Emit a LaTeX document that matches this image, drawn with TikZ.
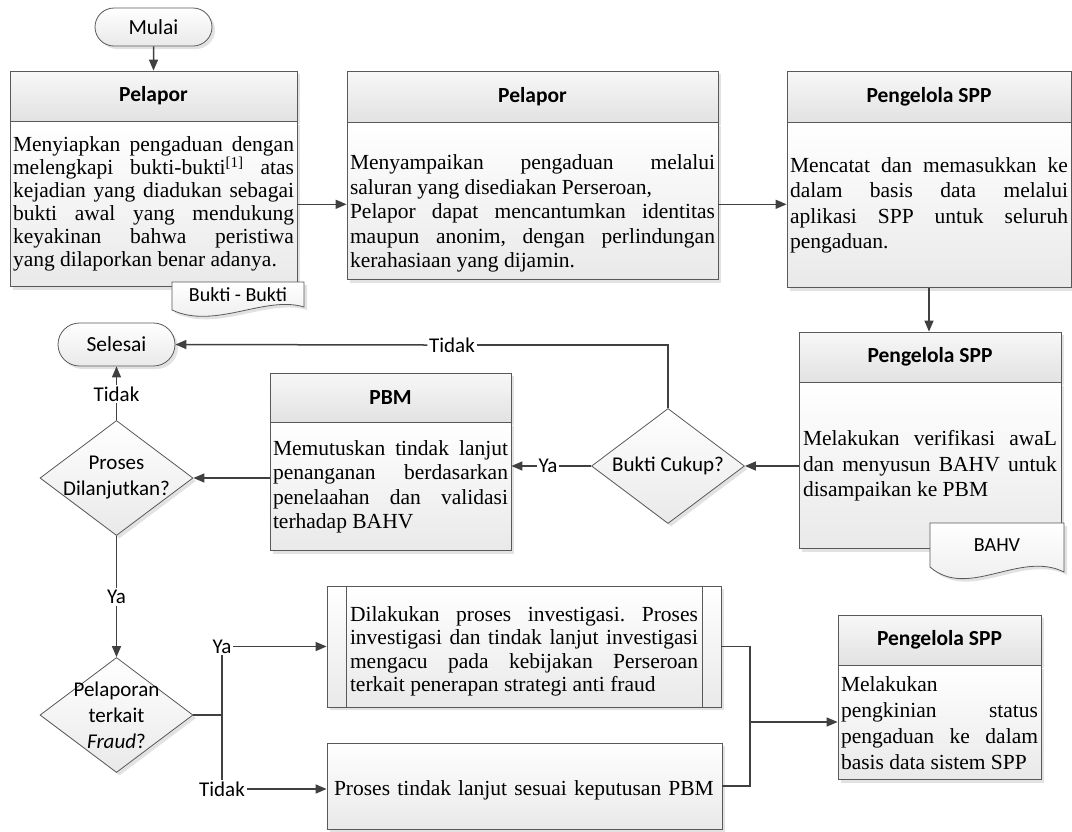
\documentclass[tikz,border=0pt]{standalone}
\usepackage{fontspec}
\setmainfont{Liberation Serif}
\newfontfamily\calibri{Carlito}
\usepackage{tikz}
\usetikzlibrary{positioning,shapes.geometric,shapes.misc,shadows,arrows.meta}
\tolerance=10000
\hbadness=10000
\frenchspacing

\begin{document}
\begin{tikzpicture}[x=1pt,y=-1pt]
  \definecolor{edge}{HTML}{595959}
  \definecolor{conn}{HTML}{404040}
  \definecolor{hdrfill}{HTML}{E2E2E2}
  \definecolor{bodyfill}{HTML}{E9E9E9}
  \tikzstyle{shadowed}=[drop shadow={shadow xshift=3pt,shadow yshift=-3pt,fill=gray!50,opacity=0.45}]
  \tikzstyle{term}=[rounded rectangle,draw=edge,line width=0.8pt,top color=white,bottom color=bodyfill,shadowed,inner sep=0pt,font=\calibri\fontsize{21.5}{25}\selectfont]
  \tikzstyle{hdr}=[rectangle,draw=edge,line width=0.8pt,top color=white!97!black,bottom color=hdrfill,shadowed,inner sep=0pt,font=\calibri\bfseries\fontsize{21.5}{25}\selectfont]
  \tikzstyle{body}=[rectangle,draw=edge,line width=0.8pt,top color=white,bottom color=bodyfill,shadowed,align=justify,inner ysep=0pt,inner xsep=3pt,font=\fontsize{21.5}{24.5}\selectfont]
  \tikzstyle{dec}=[diamond,draw=edge,line width=0.8pt,top color=white,bottom color=bodyfill,shadowed,inner sep=0pt,minimum width=153,minimum height=115]
  \tikzstyle{declbl}=[align=center,font=\calibri\fontsize{21}{26}\selectfont]
  \tikzstyle{lbl}=[fill=white,inner sep=1.5pt,font=\calibri\fontsize{21}{25}\selectfont]
  \tikzstyle{doc}=[draw=edge,line width=0.8pt,top color=white,bottom color=bodyfill,shadowed]
  \tikzstyle{flow}=[draw=conn,line width=1.5pt,-{Triangle[length=11pt,width=9pt]}]
  \tikzstyle{link}=[draw=conn,line width=1.5pt]

  \useasboundingbox (0,0) rectangle (1072,831);

  \node[term,minimum width=117,minimum height=38] (mulai) at (153.5,27) {Mulai};

  \node[hdr,minimum width=287,minimum height=50] (h1) at (153.5,96) {Pelapor};
  \node[body,below=0pt of h1,text width=281,minimum height=165,font=\fontsize{21.5}{23}\selectfont] (b1)
    {Menyiapkan pengaduan dengan\linebreak melengkapi bukti-bukti\textsuperscript{[1]} atas\linebreak kejadian yang diadukan sebagai\linebreak bukti awal yang mendukung\linebreak keyakinan bahwa peristiwa\linebreak yang dilaporkan benar adanya.};

  \node[hdr,minimum width=371,minimum height=51] (h2) at (532.5,96.5) {Pelapor};
  \node[body,below=0pt of h2,text width=365,minimum height=157] (b2)
    {\rule{0pt}{40pt}Menyampaikan pengaduan melalui\linebreak saluran yang disediakan Perseroan,\newline Pelapor dapat mencantumkan identitas\linebreak maupun anonim, dengan perlindungan\linebreak kerahasiaan yang dijamin.};

  \node[hdr,minimum width=284,minimum height=51] (h3) at (929,96.5) {Pengelola SPP};
  \node[body,below=0pt of h3,text width=278,minimum height=165,font=\fontsize{21.5}{25.5}\selectfont] (b3)
    {Mencatat dan memasukkan ke\linebreak dalam basis data melalui\linebreak aplikasi SPP untuk seluruh\linebreak pengaduan.};

  \node[hdr,minimum width=262,minimum height=50] (h4) at (930,357) {Pengelola SPP};
  \node[body,below=0pt of h4,text width=254,inner xsep=4pt,minimum height=166,font=\fontsize{21.5}{25.5}\selectfont] (b4)
    {Melakukan verifikasi awaL\linebreak dan menyusun BAHV untuk\linebreak disampaikan ke PBM};

  \node[dec,label={[declbl]center:Bukti Cukup?}] (bc) at (668,466) {};

  \node[hdr,minimum width=241,minimum height=49] (h6) at (390.5,397.5) {PBM};
  \node[body,below=0pt of h6,text width=235,minimum height=128] (b6)
    {Memutuskan tindak lanjut\linebreak penanganan berdasarkan\linebreak penelaahan dan validasi\linebreak terhadap BAHV};

  \node[term,minimum width=117,minimum height=43] (selesai) at (116.5,344.5) {Selesai};
  \node[dec,label={[declbl]center:Proses\\Dilanjutkan?}] (pd) at (116.5,478) {};
  \node[dec,label={[declbl]center:Pelaporan\\terkait\\\textit{Fraud}?}] (pf) at (116.5,715) {};

  \node[body,minimum width=394,text width=348,inner xsep=0pt,minimum height=121,font=\fontsize{21.5}{23.5}\selectfont] (inv) at (524,646.5)
    {\rule{0pt}{25pt}Dilakukan proses investigasi. Proses\linebreak investigasi dan tindak lanjut investigasi\linebreak mengacu pada kebijakan Perseroan\linebreak terkait penerapan strategi anti fraud};
  \draw[edge,line width=0.8pt] ([xshift=20pt]inv.north west) -- ([xshift=20pt]inv.south west)
    ([xshift=-19pt]inv.north east) -- ([xshift=-19pt]inv.south east);
  \node[body,minimum width=395,text width=381,inner xsep=7pt,minimum height=86,align=left] (ptl) at (524.5,786)
    {\rule{0pt}{23pt}Proses tindak lanjut sesuai keputusan PBM};

  \node[hdr,minimum width=203,minimum height=50] (h5) at (939.5,640) {Pengelola SPP};
  \node[body,below=0pt of h5,text width=197,minimum height=114,font=\fontsize{21.5}{26}\selectfont] (b5)
    {Melakukan\linebreak pengkinian status\linebreak pengaduan ke dalam\linebreak basis data sistem SPP};

  \draw[doc] (172,282) -- (304,282) -- (304,307) .. controls (265,295) and (215,330) .. (172,310) -- cycle;
  \node[font=\calibri\fontsize{20}{24}\selectfont] (bukti) at (238,295) {Bukti - Bukti};
  \draw[doc] (930,523) -- (1064,523) -- (1064,572) .. controls (1020,550) and (968,600) .. (930,567) -- cycle;
  \node[font=\calibri\fontsize{20}{24}\selectfont] (bahv) at (997,545) {BAHV};

  \node[lbl] (t1) at (452,345) {Tidak};
  \node[lbl] (t2) at (116.5,394) {Tidak};
  \node[lbl] (y1) at (116.5,597) {Ya};
  \node[lbl] (y2) at (548,466) {Ya};
  \node[lbl] (y3) at (222,646.5) {Ya};
  \node[lbl] (t3) at (222,789) {Tidak};
  \coordinate (m) at (750,722);

  \draw[flow] (mulai) -- (h1);
  \draw[flow] (b1.east) -- (b1.east -| b2.west);
  \draw[flow] (b1.east -| b2.east) -- (b1.east -| b3.west);
  \draw[flow] (b3.south) -- (b3.south |- h4.north);
  \draw[flow] (bc.east -| b4.west) -- (bc.east);
  \draw[link] (bc.north) |- (t1.east);
  \draw[flow] (t1.west) -- (selesai.east);
  \draw[link] (bc.west) -- (y2.east);
  \draw[flow] (y2.west) -- (y2.west -| b6.east);
  \draw[flow] (pd.east -| b6.west) -- (pd.east);
  \draw[link] (pd.north) -- (t2.south);
  \draw[flow] (t2.north) -- (selesai.south);
  \draw[link] (pd.south) -- (y1.north);
  \draw[flow] (y1.south) -- (pf.north);
  \draw[link] (pf.east) -- (pf.east -| y3.south);
  \draw[link] (y3.south) -- (t3.north);
  \draw[flow] (y3.east) -- (inv.west);
  \draw[flow] (t3.east) -- (t3.east -| ptl.west);
  \draw[link] (inv.east) -| (m) |- (ptl.east);
  \draw[flow] (m) -- (m -| b5.west);
\end{tikzpicture}
\end{document}
